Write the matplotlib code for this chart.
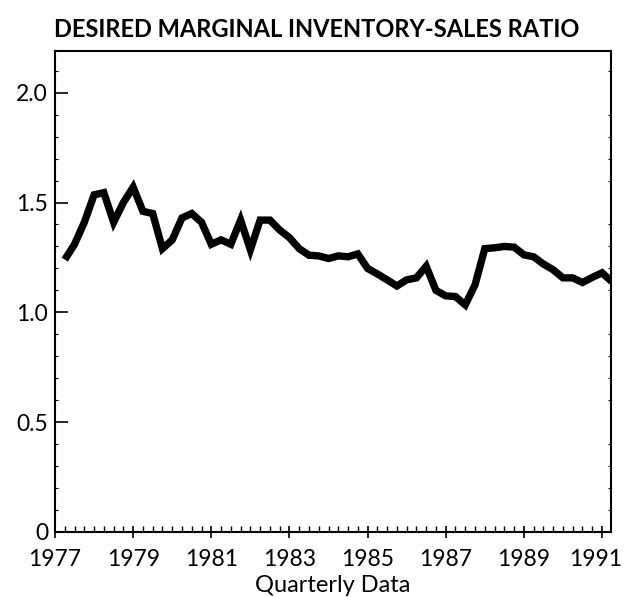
import numpy as np
import matplotlib
matplotlib.use("Agg")
import matplotlib.pyplot as plt
from matplotlib.ticker import MultipleLocator
from matplotlib.transforms import ScaledTranslation

# quarterly data, 1977Q2 .. 1991Q2
inicio = 1977.25
ratio = [
    1.24, 1.31, 1.41, 1.535, 1.545, 1.41, 1.50, 1.57,
    1.46, 1.45, 1.29, 1.33, 1.43, 1.45, 1.41, 1.31,
    1.33, 1.31, 1.42, 1.285, 1.42, 1.42, 1.375, 1.34,
    1.29, 1.26, 1.257, 1.245, 1.257, 1.253, 1.266, 1.20,
    1.175, 1.148, 1.12, 1.148, 1.157, 1.21, 1.10, 1.075,
    1.072, 1.034, 1.125, 1.29, 1.294, 1.30, 1.297, 1.262,
    1.253, 1.22, 1.194, 1.157, 1.157, 1.136, 1.159, 1.18,
    1.14,
]
anios = inicio + 0.25 * np.arange(len(ratio))
ticks_x = [1977, 1979, 1981, 1983, 1985, 1987, 1989, 1991]
ticks_y = [0, 0.5, 1.0, 1.5, 2.0]
etiquetas_y = ["0", "0.5", "1.0", "1.5", "2.0"]

plt.rcParams["font.family"] = ["Lato", "DejaVu Sans"]

fig = plt.figure(figsize=(6.23, 5.97), dpi=100)
ax = fig.add_axes([0.0883, 0.1089, 0.8924, 0.8057])

ax.plot(anios, ratio, color="black", lw=5.3, solid_joinstyle="miter",
        solid_capstyle="butt")

ax.set_xlim(1977, 1991.23)
ax.set_ylim(0, 2.19)

ax.set_xticks(ticks_x)
ax.set_xticklabels([str(t) for t in ticks_x], fontsize=16.5)
ax.xaxis.set_minor_locator(MultipleLocator(0.25))
ax.tick_params(axis="x", which="major", direction="inout", length=9,
               width=1.2, pad=8)
ax.tick_params(axis="x", which="minor", direction="in", length=4, width=1)

# el ultimo rotulo queda un poco a la izquierda, como en el original
ultimo = ax.get_xticklabels()[-1]
ultimo.set_transform(ultimo.get_transform()
                     + ScaledTranslation(-6 / 100, 0, fig.dpi_scale_trans))

ax.set_yticks(ticks_y)
ax.set_yticklabels(etiquetas_y, fontsize=16.5)
ax.yaxis.set_minor_locator(MultipleLocator(0.1))
ax.tick_params(axis="y", which="major", direction="in", length=9,
               width=1.2, pad=5)
ax.tick_params(axis="y", which="minor", direction="in", length=2, width=0.8,
               right=True)

for s in ax.spines.values():
    s.set_linewidth(1.5)

ax.set_xlabel("Quarterly Data", fontsize=17, labelpad=3)
fig.text(0.508, 0.951, "DESIRED MARGINAL INVENTORY-SALES RATIO",
         ha="center", va="center", fontsize=17, fontweight="bold")

fig.savefig("out.png", dpi=100)
